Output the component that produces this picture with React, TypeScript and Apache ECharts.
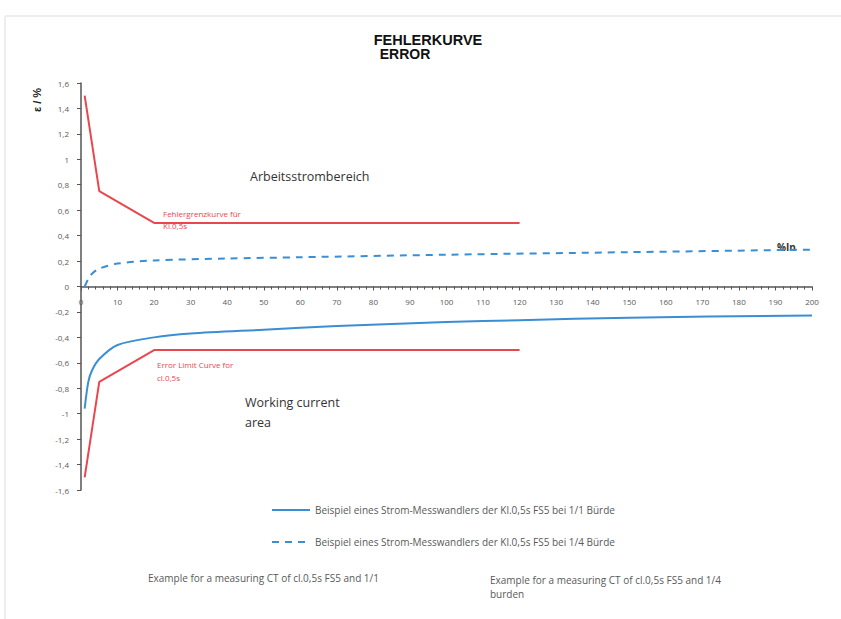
import React, { useEffect, useRef } from "react";
import * as echarts from "echarts";

const upperLimit: [number, number][] = [[1, 1.5], [5, 0.75], [20, 0.5], [100, 0.5], [120, 0.5]];
const lowerLimit: [number, number][] = [[1, -1.5], [5, -0.75], [20, -0.5], [100, -0.5], [120, -0.5]];
const fullBurden: [number, number][] = [
  [1, -0.96], [2, -0.75], [3, -0.66], [5, -0.57], [10, -0.46], [20, -0.4], [30, -0.37],
  [50, -0.34], [70, -0.31], [100, -0.28], [120, -0.265], [150, -0.245], [200, -0.228],
];
const quarterBurden: [number, number][] = [
  [1, 0.0], [2, 0.06], [3, 0.1], [5, 0.14], [10, 0.18], [20, 0.205], [40, 0.22],
  [60, 0.23], [100, 0.25], [150, 0.27], [200, 0.29],
];
const seriesNames = [
  "Beispiel eines Strom-Messwandlers der Kl.0,5s FS5 bei 1/1 Bürde",
  "Beispiel eines Strom-Messwandlers der Kl.0,5s FS5 bei 1/4 Bürde",
];

const FONT = "Open Sans";
const RED = "#e8474f";
const BLUE = "#3a8ed4";

export default function App() {
  const ref = useRef<HTMLDivElement>(null);
  useEffect(() => {
    if (!ref.current) return;
    const chart = echarts.init(ref.current, null, { renderer: "svg" });
    chart.setOption({
      animation: false,
      backgroundColor: "#ffffff",
      textStyle: { fontFamily: FONT },
      grid: { left: 81, right: 29, top: 83, bottom: 129 },
      xAxis: {
        type: "value",
        min: 0,
        max: 200,
        interval: 10,
        axisLine: { onZero: true, lineStyle: { color: "#555", width: 1.5 } },
        axisTick: { show: true, length: 4, lineStyle: { color: "#555" } },
        minorTick: { show: true, splitNumber: 5, length: 3, lineStyle: { color: "#555" } },
        splitLine: { show: false },
        axisLabel: { fontSize: 8, color: "#595959", margin: -193, fontFamily: FONT },
      },
      yAxis: {
        type: "value",
        min: -1.6,
        max: 1.6,
        interval: 0.2,
        axisLine: { show: true, onZero: false, lineStyle: { color: "#555", width: 1.5 } },
        axisTick: { show: true, length: 4, lineStyle: { color: "#555" } },
        splitLine: { show: false },
        axisLabel: {
          fontSize: 8,
          color: "#595959",
          margin: 12,
          fontFamily: FONT,
          formatter: (v: number) => String(Math.round(v * 10) / 10).replace(".", ","),
        },
      },
      legend: {
        orient: "vertical",
        left: 266,
        top: 500,
        itemWidth: 38,
        itemHeight: 10,
        itemGap: 22,
        data: seriesNames,
        itemStyle: { opacity: 0 },
        textStyle: { fontSize: 10, color: "#595959", fontFamily: FONT },
      },
      series: [
        {
          type: "line",
          name: "upper",
          data: upperLimit,
          symbol: "none",
          lineStyle: { color: RED, width: 2 },
          itemStyle: { color: RED },
        },
        {
          type: "line",
          name: "lower",
          data: lowerLimit,
          symbol: "none",
          lineStyle: { color: RED, width: 2 },
          itemStyle: { color: RED },
        },
        {
          type: "line",
          name: seriesNames[0],
          data: fullBurden,
          smooth: 0.3,
          symbol: "none",
          showSymbol: false,
          lineStyle: { color: BLUE, width: 2 },
          itemStyle: { color: BLUE },
        },
        {
          type: "line",
          name: seriesNames[1],
          data: quarterBurden,
          smooth: 0.3,
          symbol: "none",
          showSymbol: false,
          lineStyle: { color: BLUE, width: 2, type: [7, 6] },
          itemStyle: { color: BLUE },
        },
      ],
      graphic: [
        { type: "line", shape: { x1: 5, y1: 16, x2: 841, y2: 16 }, style: { stroke: "#eeeeee", lineWidth: 2 } },
        { type: "line", shape: { x1: 5, y1: 16, x2: 5, y2: 619 }, style: { stroke: "#eeeeee", lineWidth: 2 } },
        {
          type: "text", x: 428, y: 32,
          style: { text: "FEHLERKURVE", font: `bold 14.5px "Liberation Sans"`, fill: "#111", textAlign: "center" },
        },
        {
          type: "text", x: 405, y: 47,
          style: { text: "ERROR", font: `bold 14px "Liberation Sans"`, fill: "#111", textAlign: "center" },
        },
        {
          type: "text", x: 37, y: 100, rotation: Math.PI / 2, originX: 0, originY: 0,
          style: { text: "ε / %", font: `bold 11px "Liberation Sans"`, fill: "#222", textAlign: "center", textVerticalAlign: "middle" },
        },
        {
          type: "text", x: 250, y: 170,
          style: { text: "Arbeitsstrombereich", font: `12.5px "${FONT}"`, fill: "#333" },
        },
        {
          type: "text", x: 163, y: 207,
          style: { text: "Fehlergrenzkurve für\nKl.0,5s", font: `8px "${FONT}"`, fill: RED, lineHeight: 12 },
        },
        {
          type: "text", x: 157, y: 358,
          style: { text: "Error Limit Curve for\ncl.0,5s", font: `8px "${FONT}"`, fill: RED, lineHeight: 13 },
        },
        {
          type: "text", x: 245, y: 392,
          style: { text: "Working current\narea", font: `12.5px "${FONT}"`, fill: "#333", lineHeight: 20 },
        },
        {
          type: "text", x: 777, y: 242,
          style: { text: "%In", font: `bold 10px "${FONT}"`, fill: "#333" },
        },
        {
          type: "text", x: 148, y: 573,
          style: { text: "Example for a measuring CT of cl.0,5s FS5 and 1/1", font: `10px "${FONT}"`, fill: "#595959" },
        },
        {
          type: "text", x: 490, y: 573,
          style: { text: "Example for a measuring CT of cl.0,5s FS5 and 1/4\nburden", font: `10px "${FONT}"`, fill: "#595959", lineHeight: 14 },
        },
      ],
    });
    return () => chart.dispose();
  }, []);
  return (
    <div
      ref={ref}
      style={{ position: "fixed", left: 0, top: 0, width: 841, height: 619 }}
    />
  );
}
